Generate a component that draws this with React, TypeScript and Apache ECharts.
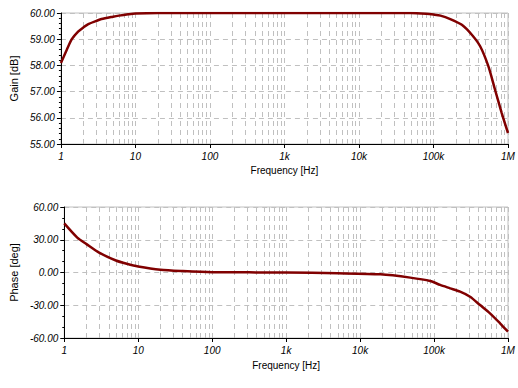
import React, { useEffect, useRef } from "react";
import * as echarts from "echarts";

const gainFreq = [1, 1.2, 1.4, 1.7, 2, 2.3, 3, 3.5, 5, 6, 8, 10, 20, 100, 1000, 10000, 50000, 80000, 100000, 124000, 168000, 240000, 327000, 423000, 546000, 670000, 824000, 1000000];
const gainDb = [58.09, 58.6, 59.0, 59.29, 59.45, 59.57, 59.7, 59.77, 59.86, 59.9, 59.95, 59.98, 60, 60, 60, 60, 60, 59.97, 59.94, 59.9, 59.77, 59.55, 59.17, 58.73, 57.96, 57.07, 56.18, 55.42];

const phaseFreq = [1, 1.5, 2, 3, 5, 7, 10, 20, 40, 100, 1000, 5000, 18800, 47700, 88700, 121000, 165000, 225000, 307000, 419000, 571000, 780000, 1000000];
const phaseDeg = [45, 32, 26, 18, 11, 8, 5.5, 2.5, 1.3, 0.3, 0, -0.7, -1.7, -4.7, -7.8, -11.4, -14.5, -17.6, -22.2, -29.8, -37.4, -46.5, -54.2];

const xTickLabels = ["1", "10", "100", "1k", "10k", "100k", "1M"];
const decadeStarts = [1, 10, 100, 1000, 10000, 100000];
const minorMultipliers = [2, 3, 4, 5, 6, 7, 8, 9];

const RED = "#800000";
const GRID = "#c0c0c0";
const DASH = [5, 4];

export default function App() {
  const ref = useRef<HTMLDivElement>(null);
  useEffect(() => {
    if (!ref.current) return;
    const chart = echarts.init(ref.current, null, { renderer: "svg" });
    const minorLines: any[] = [];
    decadeStarts.forEach((d) => minorMultipliers.forEach((m) => minorLines.push({ xAxis: d * m })));
    const labelFont = { fontFamily: "Liberation Sans, Arial, sans-serif", fontStyle: "italic" as const, fontSize: 10, color: "#000" };
    const xLabel = (v: number) => {
      const e = Math.round(Math.log10(v));
      return xTickLabels[e] ?? "";
    };
    const mkX = (gi: number, gap: number) => ({
      type: "log",
      gridIndex: gi,
      logBase: 10,
      min: 1,
      max: 1000000,
      name: "Frequency [Hz]",
      nameLocation: "middle",
      nameGap: gap,
      nameTextStyle: { fontFamily: "Liberation Sans, Arial, sans-serif", fontSize: 10, color: "#000" },
      axisLine: { show: true, onZero: false, lineStyle: { color: "#000", width: 1 } },
      axisTick: { show: true, inside: false, length: 4, lineStyle: { color: "#000" } },
      axisLabel: { ...labelFont, margin: 7, formatter: xLabel },
      splitLine: { show: true, lineStyle: { color: GRID, type: DASH, width: 1 } },
      minorTick: { show: false },
      minorSplitLine: { show: false },
    });
    const mkY = (gi: number, name: string, min: number, max: number, interval: number, gap: number) => ({
      type: "value",
      gridIndex: gi,
      min,
      max,
      interval,
      name,
      nameLocation: "middle",
      nameGap: gap,
      nameTextStyle: { fontFamily: "Liberation Sans, Arial, sans-serif", fontSize: 11, color: "#000" },
      axisLine: { show: true, onZero: false, lineStyle: { color: "#000", width: 1 } },
      axisTick: { show: true, length: 4, lineStyle: { color: "#000" } },
      minorTick: { show: true, splitNumber: interval === 1 ? 5 : 3, length: 2, lineStyle: { color: "#000" } },
      axisLabel: { ...labelFont, margin: 6, formatter: (v: number) => v.toFixed(2) },
      splitLine: { show: true, lineStyle: { color: GRID, type: DASH, width: 1 } },
    });
    const mkMarkLine = () => ({
      silent: true,
      symbol: ["none", "none"],
      label: { show: false },
      lineStyle: { color: GRID, type: DASH, width: 1 },
      emphasis: { disabled: true },
      data: minorLines,
    });
    chart.setOption({
      animation: false,
      backgroundColor: "#fff",
      grid: [
        { left: 59, right: 10, top: 13, height: 131, show: true, borderColor: GRID, borderWidth: 1 },
        { left: 63, right: 10, top: 207, height: 131, show: true, borderColor: GRID, borderWidth: 1 },
      ],
      xAxis: [mkX(0, 21), mkX(1, 22)],
      yAxis: [mkY(0, "Gain [dB]", 55, 60, 1, 41), mkY(1, "Phase [deg]", -60, 60, 30, 44)],
      series: [
        {
          type: "line",
          xAxisIndex: 0,
          yAxisIndex: 0,
          data: gainFreq.map((f, i) => [f, gainDb[i]]),
          showSymbol: false,
          smooth: 0.25,
          lineStyle: { color: RED, width: 2.5 },
          markLine: mkMarkLine(),
          z: 5,
        },
        {
          type: "line",
          xAxisIndex: 1,
          yAxisIndex: 1,
          data: phaseFreq.map((f, i) => [f, phaseDeg[i]]),
          showSymbol: false,
          smooth: 0.25,
          lineStyle: { color: RED, width: 2.5 },
          markLine: mkMarkLine(),
          z: 5,
        },
      ],
    });
    return () => chart.dispose();
  }, []);
  return <div ref={ref} style={{ width: 518, height: 388, position: "absolute", left: 0, top: 0 }} />;
}
